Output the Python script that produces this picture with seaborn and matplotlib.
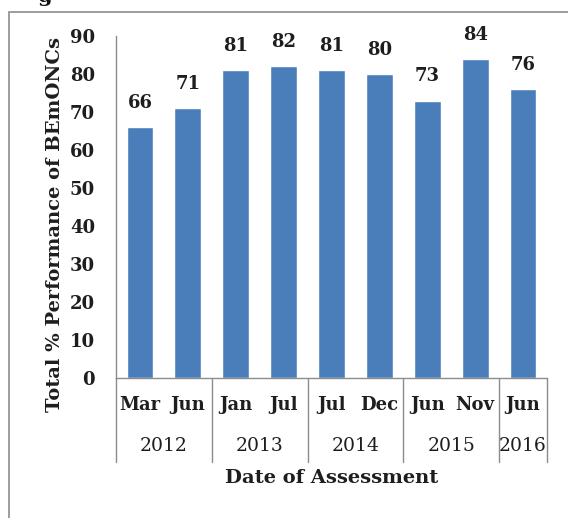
import matplotlib
matplotlib.use("Agg")
import matplotlib.pyplot as plt
import matplotlib.transforms as mtransforms
from matplotlib.patches import Rectangle
from matplotlib.lines import Line2D
import pandas as pd
import seaborn as sns

# Assessment rounds
years = ["2012", "2013", "2014", "2015", "2016"]
months_per_year = [["Mar", "Jun"], ["Jan", "Jul"], ["Jul", "Dec"], ["Jun", "Nov"], ["Jun"]]
performance = [66, 71, 81, 82, 81, 80, 73, 84, 76]
y_ticks = [0, 10, 20, 30, 40, 50, 60, 70, 80, 90]

months = [m for ms in months_per_year for m in ms]
rounds = [f"{m} {y}" for y, ms in zip(years, months_per_year) for m in ms]
df = pd.DataFrame({"round": rounds, "score": performance})

sns.set_theme(style="white")
plt.rcParams["font.family"] = ["DejaVu Serif", "Liberation Serif"]

INK = "#1e1e1e"
W, H = 568, 518
fig = plt.figure(figsize=(W / 100, H / 100), dpi=100)
ax = fig.add_axes([116 / W, 1 - 378 / H, (547 - 116) / W, (378 - 36) / H])

sns.barplot(data=df, x="round", y="score", color="#4a7ebb", saturation=1,
            width=0.56, ax=ax)

ax.set_ylim(0, 90)
ax.set_xlim(-0.5, len(rounds) - 0.5)
ax.set_yticks(y_ticks)
ax.set_yticklabels([str(t) for t in y_ticks], fontsize=13, fontweight="bold")
ax.set_xticks(range(len(rounds)))
ax.set_xticklabels(months, fontsize=13, fontweight="bold")
ax.tick_params(axis="y", length=0, pad=15, colors=INK)
ax.tick_params(axis="x", length=0, pad=13, colors=INK)
ax.set_xlabel("")
ax.set_ylabel("")

for side in ["top", "right"]:
    ax.spines[side].set_visible(False)
for side in ["left", "bottom"]:
    ax.spines[side].set_color("#8c8c8c")
    ax.spines[side].set_linewidth(1.0)

for cont in ax.containers:
    ax.bar_label(cont, labels=[str(v) for v in performance], padding=11,
                 fontsize=13, fontweight="bold", color=INK)

# Year grouping below the month labels
trans = mtransforms.blended_transform_factory(ax.transData, ax.transAxes)
y_low = (378 - 462) / 342
start = 0
edges = [-0.5]
for y, ms in zip(years, months_per_year):
    n = len(ms)
    center = start + (n - 1) / 2
    ax.text(center, (378 - 446) / 342, y, transform=trans, ha="center", va="center",
            fontsize=13.5, color=INK)
    start += n
    edges.append(start - 0.5)
for e in edges:
    ax.add_line(Line2D([e, e], [0, y_low], transform=trans, color="#8c8c8c",
                       lw=1.0, clip_on=False))

ax.text(0.5, (378 - 478) / 342, "Date of Assessment", transform=ax.transAxes,
        ha="center", va="center", fontsize=14, fontweight="bold", color=INK)
fig.text(55 / W, 1 - 225 / H, "Total % Performance of BEmONCs", rotation=90,
         ha="center", va="center", fontsize=14, fontweight="bold", color=INK)

# Frame around the figure panel, with the tail of the caption above it
fig.add_artist(Rectangle((9 / W, -0.1), 1.2, 1 - 12 / H + 0.1, transform=fig.transFigure,
                         fill=False, edgecolor="#8c8c8c", lw=1.2))
fig.text(52 / W, 1 - 2 / H, "g", ha="right", va="baseline", fontsize=15,
         fontweight="bold", color="#111111")

fig.savefig("out.png", dpi=100)
